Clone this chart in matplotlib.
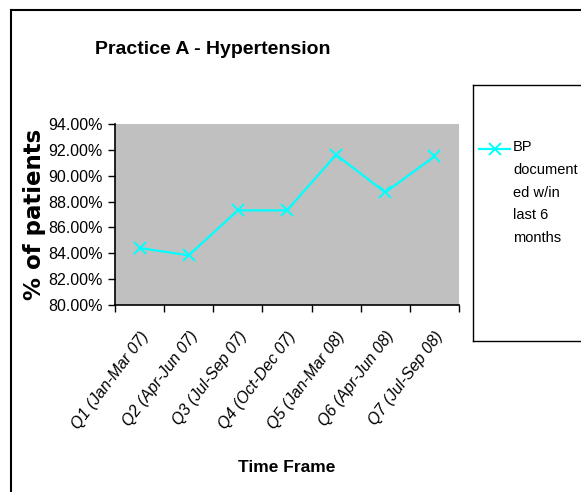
import matplotlib
matplotlib.use("Agg")
import matplotlib.pyplot as plt
from matplotlib.lines import Line2D
from matplotlib.ticker import FuncFormatter, MultipleLocator

# data
quarters = [
    "Q1 (Jan-Mar 07)",
    "Q2 (Apr-Jun 07)",
    "Q3 (Jul-Sep 07)",
    "Q4 (Oct-Dec 07)",
    "Q5 (Jan-Mar 08)",
    "Q6 (Apr-Jun 08)",
    "Q7 (Jul-Sep 08)",
]
bp_documented = [84.41, 83.84, 87.32, 87.32, 91.62, 88.71, 91.49]
series_label = "BP\ndocument\ned w/in\nlast 6\nmonths"

sans = ["Liberation Sans", "DejaVu Sans"]
W, H = 581, 492

fig = plt.figure(figsize=(W / 100, H / 100), dpi=100)
fig.patch.set_facecolor("white")

# plot area in pixels: left 115, right 459, top 124, bottom 305
ax = fig.add_axes([115 / W, 1 - 305 / H, (459 - 115) / W, (305 - 124) / H])
ax.set_facecolor("#c0c0c0")

x = [i + 0.5 for i in range(len(quarters))]
(line,) = ax.plot(x, bp_documented, color="#00ffff", lw=1.6, marker="x",
                  markersize=9, markeredgewidth=1.4)

ax.set_xlim(0, len(quarters))
ax.set_ylim(80, 94)
ax.yaxis.set_major_locator(MultipleLocator(2))
ax.yaxis.set_major_formatter(FuncFormatter(lambda v, p: "%.2f%%" % v))
ax.set_xticks(range(len(quarters) + 1))
ax.set_xticklabels([])
ax.set_xticks(x, minor=True)
ax.set_xticklabels(quarters, minor=True, rotation=53, ha="right",
                   rotation_mode="anchor", fontstyle="italic",
                   family=sans, fontsize=11.5)
ax.tick_params(axis="x", which="minor", length=0, pad=17)
ax.tick_params(axis="x", which="major", length=5, direction="out", width=1)
ax.tick_params(axis="y", length=5, width=1, labelsize=11.5, pad=4)
for t in ax.get_yticklabels():
    t.set_family(sans)

for s in ["top", "right"]:
    ax.spines[s].set_visible(False)
for s in ["left", "bottom"]:
    ax.spines[s].set_linewidth(1.2)

ax.set_ylabel("% of patients", fontsize=16.5, fontweight="bold",
              family=["DejaVu Sans"])
ax.yaxis.set_label_coords(-0.2, 0.5)

fig.text(213 / W, 1 - 50 / H, "Practice A - Hypertension", ha="center",
         va="center", fontsize=14, fontweight="bold", family=sans)
fig.text(287 / W, 1 - 467 / H, "Time Frame", ha="center", va="center",
         fontsize=12.5, fontweight="bold", family=sans)

# outer chart frame (runs off the right and bottom edges)
fig.add_artist(Line2D([11 / W, 11 / W], [0, 1 - 10 / H], color="black", lw=1.5))
fig.add_artist(Line2D([11 / W, 1], [1 - 10 / H, 1 - 10 / H], color="black", lw=1.5))

# legend box
lx0, ly0, ly1 = 473 / W, 1 - 85 / H, 1 - 341 / H
fig.add_artist(Line2D([lx0, lx0], [ly1, ly0], color="black", lw=1))
fig.add_artist(Line2D([lx0, 1], [ly0, ly0], color="black", lw=1))
fig.add_artist(Line2D([lx0, 1], [ly1, ly1], color="black", lw=1))
fig.add_artist(Line2D([479 / W, 510 / W], [1 - 149 / H, 1 - 149 / H],
                      color="#00ffff", lw=1.6))
fig.add_artist(Line2D([494.5 / W], [1 - 149 / H], color="#00ffff", marker="x",
                      markersize=9, markeredgewidth=1.4))
fig.text(513 / W, 1 - 140 / H, series_label, ha="left", va="top",
         fontsize=10.5, family=sans, linespacing=1.8)

fig.savefig("out.png", dpi=100, facecolor="white")
